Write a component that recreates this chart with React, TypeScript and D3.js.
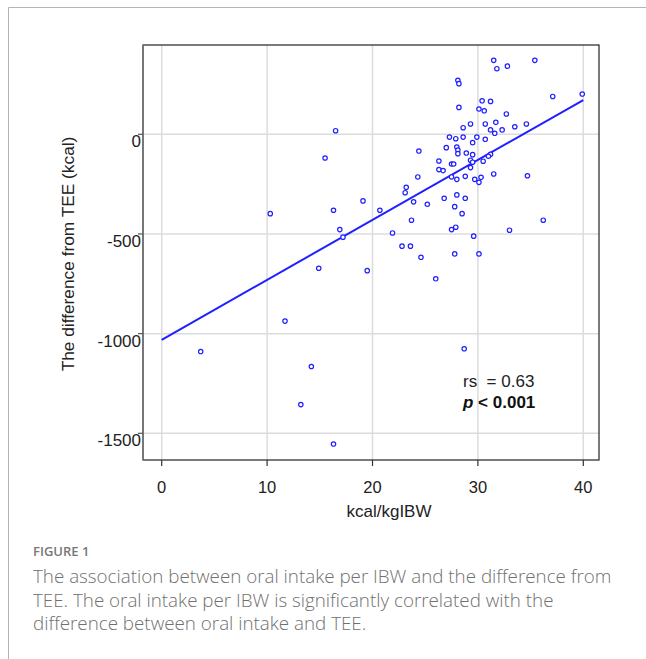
import React from 'react'
import * as d3 from 'd3'

// kcal per kg ideal body weight (x) and difference from TEE in kcal (y)
const intake = [
  31.5, 35.4, 31.8, 32.8, 28.1, 28.2, 37.1, 39.9, 28.2, 30.4,
  31.2, 30.1, 30.6, 32.7, 29.3, 28.6, 30.7, 31.7, 33.5, 34.6,
  31.2, 31.6, 32.3, 16.5, 27.3, 27.9, 28.6, 29.9, 30.7, 29.5,
  24.4, 27.0, 28.0, 28.1, 28.1, 28.9, 29.5, 31.2, 31.0, 15.5,
  26.3, 29.3, 29.5, 30.5, 27.5, 27.7, 26.3, 26.7, 29.3, 31.5,
  34.7, 24.3, 27.5, 28.8, 29.7, 30.3, 28.0, 30.1, 23.2, 23.1,
  19.1, 23.9, 25.2, 26.8, 28.0, 28.8, 10.3, 16.3, 20.7, 27.8,
  28.5, 23.7, 36.2, 16.9, 17.2, 21.9, 27.5, 27.9, 33.0, 29.6,
  22.8, 23.6, 24.6, 27.8, 30.1, 14.9, 19.5, 26.0, 11.7, 3.7,
  14.2, 28.7, 13.2, 16.3,
]
const diffTee = [
  371, 371, 329, 342, 271, 254, 190, 202, 135, 168,
  165, 127, 118, 102, 52, 33, 52, 60, 38, 52,
  22, 5, 22, 18, -14, -22, -14, -14, -25, -42,
  -84, -67, -64, -79, -97, -94, -102, -100, -110, -119,
  -134, -130, -140, -135, -149, -149, -177, -182, -167, -199,
  -208, -214, -214, -211, -226, -216, -226, -241, -266, -293,
  -334, -339, -351, -321, -304, -321, -398, -381, -381, -363,
  -398, -431, -431, -478, -516, -495, -478, -466, -481, -511,
  -561, -561, -617, -600, -600, -672, -684, -725, -937, -1090,
  -1165, -1076, -1356, -1554,
]

// fitted line end points
const fitX = [0, 40]
const fitY = [-1031, 172]

const xTicks = [0, 10, 20, 30, 40]
const yTicks = [0, -500, -1000, -1500]

const captionLines = [
  'The association between oral intake per IBW and the difference from',
  'TEE. The oral intake per IBW is significantly correlated with the',
  'difference between oral intake and TEE.',
]

const W = 646
const H = 659
const box = { left: 143, right: 599, top: 45, bottom: 460 }
const font = '"Liberation Sans", Arial, sans-serif'
const blue = '#1f1fff'

export default function App() {
  const x = d3.scaleLinear().domain([0, 40]).range([161.7, 583.3])
  const y = d3.scaleLinear().domain([-1500, 0]).range([433.3, 134.3])

  const pts = intake.map((v, i) => [v, diffTee[i]] as [number, number])
  const fit = d3
    .line<number>()
    .x((d) => x(d))
    .y((d, i) => y(fitY[i]))

  return (
    <div style={{ position: 'absolute', left: 0, top: 0 }}>
      <svg width={W} height={H} style={{ display: 'block', background: '#fff' }}>
        {/* outer frame */}
        <path d={`M8.5,${H} V7.5 H${W}`} fill="none" stroke="#b4b4b4" strokeWidth={1} />

        {/* gridlines */}
        {xTicks.map((t) => (
          <line key={'gx' + t} x1={x(t)} x2={x(t)} y1={box.top} y2={box.bottom} stroke="#dcdcdc" strokeWidth={1.5} />
        ))}
        {yTicks.map((t) => (
          <line key={'gy' + t} x1={box.left} x2={box.right} y1={y(t)} y2={y(t)} stroke="#dcdcdc" strokeWidth={1.5} />
        ))}

        {/* plot border */}
        <rect
          x={box.left}
          y={box.top}
          width={box.right - box.left}
          height={box.bottom - box.top}
          fill="none"
          stroke="#222"
          strokeWidth={1.2}
        />
        <line x1={box.left} x2={box.left} y1={box.top} y2={box.bottom} stroke="#777" strokeWidth={1.5} />

        {/* y ticks */}
        {yTicks.map((t) => (
          <g key={'ty' + t}>
            <line x1={box.left - 5} x2={box.left} y1={y(t)} y2={y(t)} stroke="#555" strokeWidth={1.2} />
            <text x={141} y={y(t) + 13} textAnchor="end" fontFamily={font} fontSize={17} fill="#222">
              {t}
            </text>
          </g>
        ))}

        {/* x ticks */}
        {xTicks.map((t) => (
          <g key={'tx' + t}>
            <line x1={x(t)} x2={x(t)} y1={box.bottom} y2={box.bottom + 6} stroke="#333" strokeWidth={1.2} />
            <text x={x(t)} y={493} textAnchor="middle" fontFamily={font} fontSize={16.5} fill="#222">
              {t}
            </text>
          </g>
        ))}

        {/* axis titles */}
        <text x={389} y={517} textAnchor="middle" fontFamily={font} fontSize={17} fill="#222">
          kcal/kgIBW
        </text>
        <text
          transform="translate(74,254) rotate(-90)"
          textAnchor="middle"
          fontFamily={font}
          fontSize={17.3}
          fill="#222"
        >
          The difference from TEE (kcal)
        </text>

        {/* regression line */}
        <path d={fit(fitX) || ''} fill="none" stroke={blue} strokeWidth={2} />

        {/* points */}
        {pts.map(([a, b], i) => (
          <circle key={i} cx={x(a)} cy={y(b)} r={2.2} fill="#fff" stroke={blue} strokeWidth={1.2} />
        ))}

        {/* stats */}
        <text x={463} y={387} fontFamily={font} fontSize={17} fill="#222" style={{ whiteSpace: 'pre' }}>
          {'rs  = 0.63'}
        </text>
        <text x={463} y={408} fontFamily={font} fontSize={17} fill="#111" fontWeight="bold">
          <tspan fontStyle="italic">p</tspan>
          <tspan>{' < 0.001'}</tspan>
        </text>

        {/* caption */}
        <text x={33} y={556} fontFamily='"Open Sans", sans-serif' fontSize={13} fill="#777" fontWeight={600}>
          FIGURE 1
        </text>
        {captionLines.map((l, i) => (
          <text
            key={i}
            x={33}
            y={583 + i * 23.5}
            fontFamily='"Open Sans", sans-serif'
            fontSize={18.8}
            fontWeight={300}
            fill="#707070"
          >
            {l}
          </text>
        ))}
      </svg>
    </div>
  )
}
